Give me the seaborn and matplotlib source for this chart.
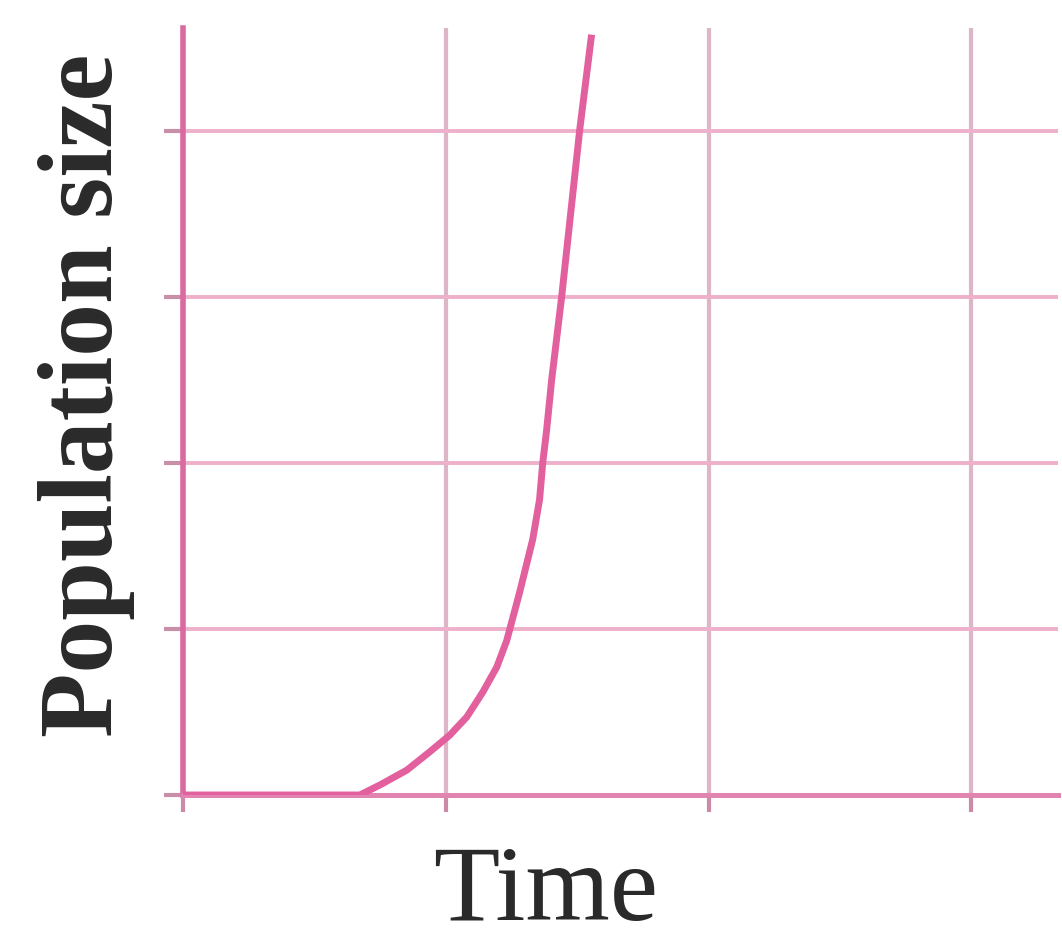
import pandas as pd
import matplotlib
matplotlib.use("Agg")
import matplotlib.pyplot as plt
import seaborn as sns

# ---------- Data (grid units) ----------
time_vals = [0, 0.673, 0.749, 0.852, 0.939, 1.015, 1.080, 1.141, 1.194, 1.232,
             1.281, 1.331, 1.357, 1.369, 1.384, 1.403, 1.441, 1.510, 1.555]
pop_vals = [0, 0, 0.06, 0.15, 0.26, 0.36, 0.47, 0.62, 0.77, 0.93,
            1.22, 1.54, 1.78, 2.00, 2.20, 2.50, 3.00, 4.01, 4.58]
x_ticks = [0, 1, 2, 3]
y_ticks = [0, 1, 2, 3, 4]

df = pd.DataFrame({"Time": time_vals, "Population size": pop_vals})

# ---------- Style ----------
sns.set_theme(style="white")
plt.rcParams['font.family'] = ['Liberation Serif', 'DejaVu Serif']

curve_col = "#e2609e"
spine_col = "#da6a9f"
hgrid_col = "#eeb0ca"
vgrid_col = "#dcb6c6"

fig = plt.figure(figsize=(10.62, 9.44), dpi=100)
ax = fig.add_axes([183 / 1062, 1 - 795 / 944, (1058 - 183) / 1062, (795 - 28) / 944])

sns.lineplot(data=df, x="Time", y="Population size", ax=ax,
             color=curve_col, linewidth=5, zorder=5)
ax.lines[0].set_solid_capstyle("butt")
ax.lines[0].set_solid_joinstyle("round")

ax.set_xlim(0, 3.33)
ax.set_ylim(0, 4.62)
ax.set_xticks(x_ticks)
ax.set_yticks(y_ticks)
ax.set_xticklabels([])
ax.set_yticklabels([])

ax.grid(axis="y", color=hgrid_col, linewidth=2.8)
ax.grid(axis="x", color=vgrid_col, linewidth=3)
ax.set_axisbelow(True)

for side in ["top", "right"]:
    ax.spines[side].set_visible(False)
ax.spines["left"].set_color(spine_col)
ax.spines["left"].set_linewidth(4)
ax.spines["bottom"].set_color("#e284b0")
ax.spines["bottom"].set_linewidth(3.6)
ax.spines["bottom"].set_zorder(4)

ax.tick_params(axis="x", direction="out", length=12, width=3, color="#cc8aa8", bottom=True)
ax.tick_params(axis="y", direction="out", length=14, width=3, color="#c890a8", left=True)

ax.set_xlabel("Time", fontsize=78, color="#2a2a2a")
ax.set_ylabel("Population size", fontsize=76, fontweight="bold", color="#2a2a2a")
ax.xaxis.label.set_va("baseline")
ax.yaxis.label.set_va("baseline")
ax.xaxis.set_label_coords((546 - 183) / 875, -(920 - 795) / 767)
ax.yaxis.set_label_coords((112 - 183) / 875, (795 - 395) / 767)

plt.savefig("out.png", dpi=100)
